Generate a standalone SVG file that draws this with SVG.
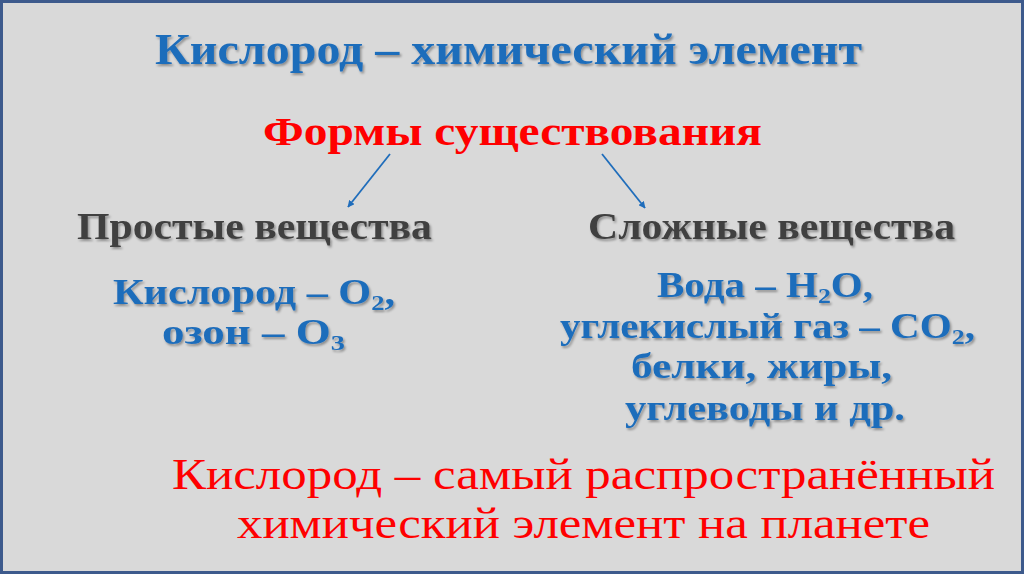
<svg xmlns="http://www.w3.org/2000/svg" width="1024" height="574" viewBox="0 0 1024 574">
<style>
.serifB{font-family:"Liberation Serif","DejaVu Serif",serif;font-weight:bold}
.serif{font-family:"Liberation Serif","DejaVu Serif",serif}
.blue{fill:#1f6dbb}
.red{fill:#ff0000}
.gray{fill:#404040}
.sub{font-size:22px}
.conn{stroke:#1f6dbb;stroke-width:1.8;fill:none;marker-end:url(#ah)}
</style>
<defs>
<filter id="sh" x="-5%" y="-20%" width="110%" height="150%">
<feDropShadow dx="1.5" dy="2" stdDeviation="1.2" flood-color="#000" flood-opacity="0.35"/>
</filter>
<marker id="ah" viewBox="0 0 10 10" refX="9" refY="5" markerWidth="7" markerHeight="7" orient="auto" markerUnits="userSpaceOnUse">
<path d="M0,0 L10,5 L0,10 z" fill="#1f6dbb"/>
</marker>
</defs>
<rect x="1.5" y="1.5" width="1021" height="571" fill="#d9d9d9" stroke="#3d5a8c" stroke-width="3"/>
<g id="title" filter="url(#sh)">
<text class="serifB blue" x="155" y="64" font-size="45" textLength="707" lengthAdjust="spacingAndGlyphs">Кислород – химический элемент</text>
</g>
<g id="forms">
<text class="serifB red" x="263" y="145" font-size="40" textLength="499" lengthAdjust="spacingAndGlyphs">Формы существования</text>
</g>
<g id="connectors">
<line class="conn" x1="390" y1="154" x2="348" y2="207"/>
<line class="conn" x1="602" y1="154" x2="645" y2="208"/>
</g>
<g id="simple" filter="url(#sh)">
<text class="serifB gray" x="77" y="239" font-size="38" textLength="355" lengthAdjust="spacingAndGlyphs">Простые вещества</text>
<text class="serifB blue" x="113" y="304" font-size="35" textLength="282" lengthAdjust="spacingAndGlyphs">Кислород – O<tspan class="sub" dy="6">2</tspan><tspan dy="-6">,</tspan></text>
<text class="serifB blue" x="162" y="344" font-size="35" textLength="183" lengthAdjust="spacingAndGlyphs">озон – O<tspan class="sub" dy="6">3</tspan></text>
</g>
<g id="complex" filter="url(#sh)">
<text class="serifB gray" x="588" y="239" font-size="38" textLength="367" lengthAdjust="spacingAndGlyphs">Сложные вещества</text>
<text class="serifB blue" x="657" y="297" font-size="35" textLength="216" lengthAdjust="spacingAndGlyphs">Вода – H<tspan class="sub" dy="6">2</tspan><tspan dy="-6">O,</tspan></text>
<text class="serifB blue" x="560" y="338" font-size="35" textLength="415" lengthAdjust="spacingAndGlyphs">углекислый газ – CO<tspan class="sub" dy="6">2</tspan><tspan dy="-6">,</tspan></text>
<text class="serifB blue" x="631" y="378" font-size="35" textLength="261" lengthAdjust="spacingAndGlyphs">белки, жиры,</text>
<text class="serifB blue" x="625" y="420" font-size="35" textLength="280" lengthAdjust="spacingAndGlyphs">углеводы и др.</text>
</g>
<g id="fact">
<text class="serif red" x="172" y="489" font-size="45" textLength="823" lengthAdjust="spacingAndGlyphs">Кислород – самый распространённый</text>
<text class="serif red" x="237" y="538" font-size="45" textLength="693" lengthAdjust="spacingAndGlyphs">химический элемент на планете</text>
</g>
</svg>
